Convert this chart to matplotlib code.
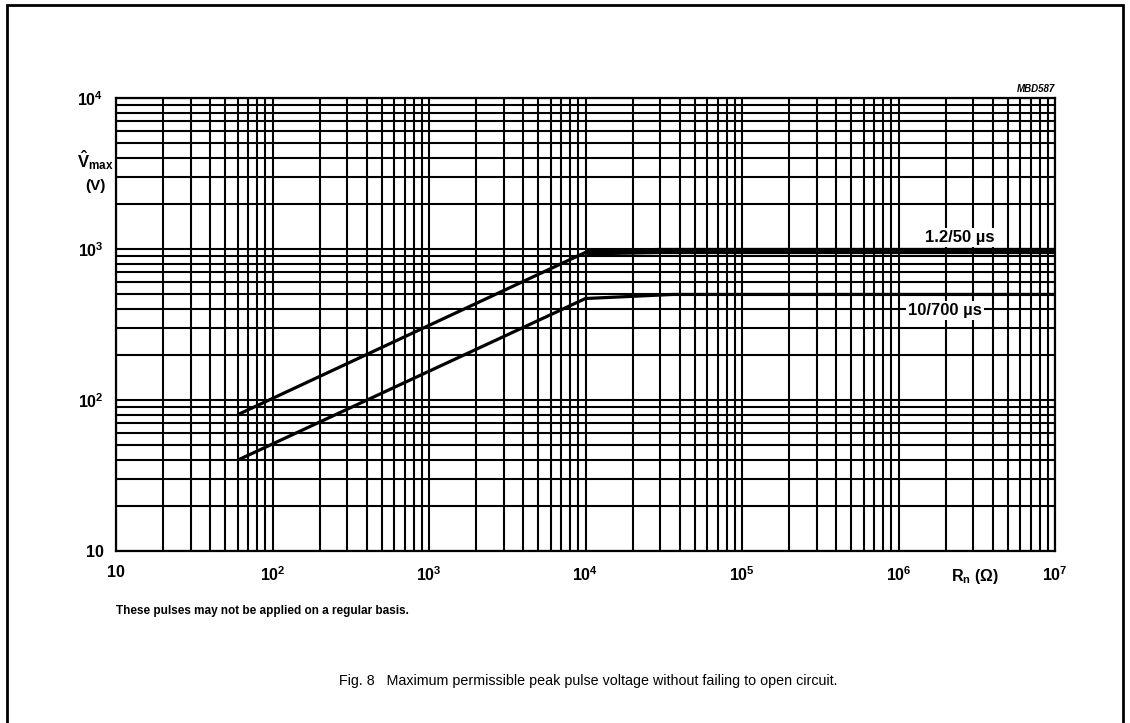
import matplotlib
matplotlib.use("Agg")
import matplotlib.pyplot as plt
from matplotlib.patches import Rectangle
from matplotlib.ticker import LogLocator, NullFormatter, FixedLocator, FixedFormatter

plt.rcParams['font.family'] = ['Liberation Sans', 'DejaVu Sans']
plt.rcParams['mathtext.fontset'] = 'custom'
plt.rcParams['mathtext.rm'] = 'Liberation Sans'
plt.rcParams['mathtext.it'] = 'Liberation Sans:italic'
plt.rcParams['mathtext.bf'] = 'Liberation Sans:bold'

# Data
r_1250 = [60, 1e4, 3e4, 1e7]
v_1250 = [80, 950, 970, 970]
r_10700 = [60, 1e4, 3.6e4, 1e7]
v_10700 = [40, 470, 500, 500]

x_ticks = [10, 1e2, 1e3, 1e4, 1e5, 1e6, 1e7]
x_labels = ['10', r'$\mathbf{10^2}$', r'$\mathbf{10^3}$', r'$\mathbf{10^4}$',
            r'$\mathbf{10^5}$', r'$\mathbf{10^6}$', r'$\mathbf{10^7}$']
y_ticks = [10, 1e2, 1e3, 1e4]
y_labels = ['10', r'$\mathbf{10^2}$', r'$\mathbf{10^3}$', r'$\mathbf{10^4}$']

fig = plt.figure(figsize=(11.3, 7.23), dpi=100)
ax = fig.add_axes([116/1130, 1-551/723, (1055-116)/1130, (551-98)/723])
ax.set_xscale('log')
ax.set_yscale('log')
ax.set_xlim(10, 1e7)
ax.set_ylim(10, 1e4)

ax.xaxis.set_major_locator(FixedLocator(x_ticks))
ax.xaxis.set_major_formatter(FixedFormatter(x_labels))
ax.yaxis.set_major_locator(FixedLocator(y_ticks))
ax.yaxis.set_major_formatter(FixedFormatter(y_labels))
ax.xaxis.set_minor_locator(LogLocator(base=10, subs=range(2, 10), numticks=20))
ax.yaxis.set_minor_locator(LogLocator(base=10, subs=range(2, 10), numticks=20))
ax.xaxis.set_minor_formatter(NullFormatter())
ax.yaxis.set_minor_formatter(NullFormatter())
ax.tick_params(which='both', length=0, labelsize=11.5)
ax.tick_params(axis='x', pad=10)
ax.tick_params(axis='y', pad=9)
for lab in ax.get_xticklabels() + ax.get_yticklabels():
    lab.set_fontweight('bold')
ax.grid(True, which='both', color='black', linewidth=1.5)
for s in ax.spines.values():
    s.set_linewidth(1.6)

ax.plot(r_1250[:2], v_1250[:2], color='black', lw=2.3, solid_capstyle='butt')
ax.plot(r_1250[1:], v_1250[1:], color='black', lw=4.5, solid_capstyle='butt')
ax.plot(r_10700, v_10700, color='black', lw=2.3, solid_capstyle='butt')

ax.text(2.47e6, 1200, '1.2/50 µs', fontsize=12, fontweight='bold', ha='center', va='center',
        bbox=dict(facecolor='white', edgecolor='none', pad=1.5))
ax.text(1.98e6, 390, '10/700 µs', fontsize=12, fontweight='bold', ha='center', va='center',
        bbox=dict(facecolor='white', edgecolor='none', pad=1.5))

fig.text(975/1130, 1-577/723, r'$\mathbf{R_n}$ (Ω)', fontsize=11.5, fontweight='bold',
         ha='center', va='center')
fig.text(95/1130, 1-160/723, r'$\mathbf{\hat{V}_{max}}$', fontsize=12, ha='center', va='center')
fig.text(95/1130, 1-186/723, '(V)', fontsize=11, fontweight='bold', ha='center', va='center')
fig.text(1055/1130, 1-89/723, 'MBD587', fontsize=7, fontweight='bold', style='italic',
         ha='right', va='center')
fig.text(116/1130, 1-611/723, 'These pulses may not be applied on a regular basis.',
         fontsize=8.5, fontweight='bold', ha='left', va='center')
fig.text(588/1130, 1-681/723,
         'Fig. 8   Maximum permissible peak pulse voltage without failing to open circuit.',
         fontsize=10.3, ha='center', va='center')

fig.patches.append(Rectangle((7/1130, -0.05), (1123-7)/1130, 1.05 - 5/723,
                             transform=fig.transFigure, fill=False, edgecolor='black',
                             linewidth=2, figure=fig))

fig.savefig('out.png', dpi=100)
